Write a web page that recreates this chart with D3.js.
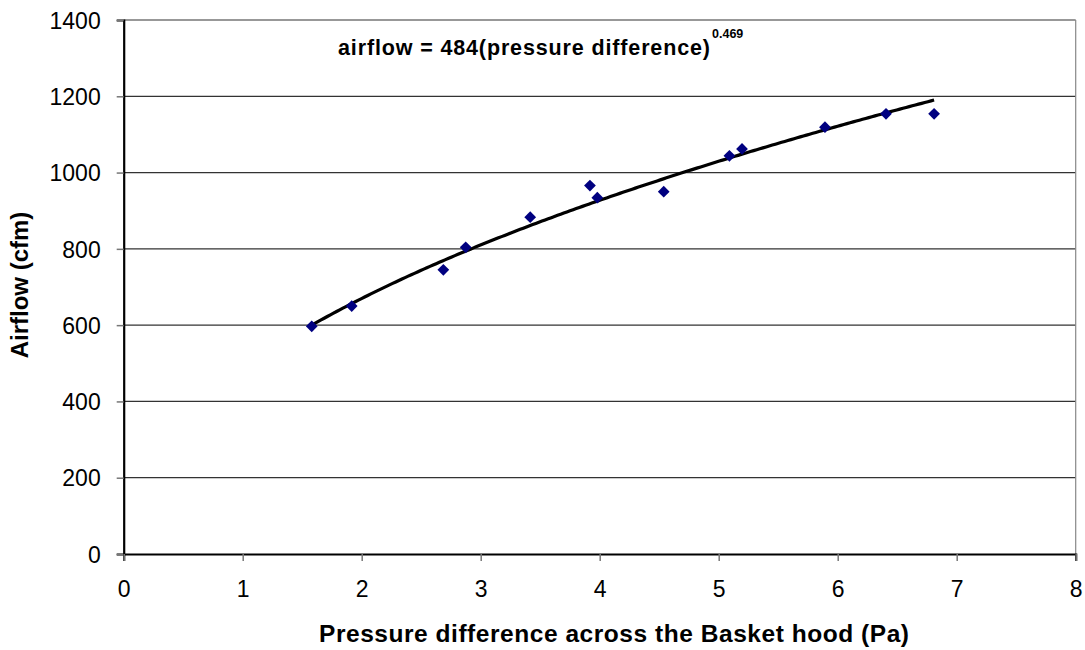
<!DOCTYPE html>
<html>
<head>
<meta charset="utf-8">
<script src="https://cdn.jsdelivr.net/npm/d3@7"></script>
<style>
  html, body { margin: 0; padding: 0; background: #fff; }
  svg { display: block; font-family: "Liberation Sans", Arial, sans-serif; }
</style>
</head>
<body>
<svg id="chart" width="1085" height="650"></svg>
<script>
// Measured pressure differences (Pa) and airflows (cfm)
const pressure = [1.58, 1.916, 2.686, 2.874, 3.416, 3.918, 3.98, 4.538, 5.09, 5.196, 5.893, 6.406, 6.81];
const airflow  = [597, 650, 745, 804, 883, 966, 934, 950, 1044, 1062, 1119, 1154, 1154];

// Power-law fit: airflow = coef * pressure ^ exponent
const fitCoef = [484];
const fitExponent = [0.469];

const xTicks = [0, 1, 2, 3, 4, 5, 6, 7, 8];
const yTicks = [0, 200, 400, 600, 800, 1000, 1200, 1400];

const svg = d3.select("#chart");
const plotLeft = 123.7, plotRight = 1075.7, plotTop = 20, plotBottom = 554;

const x = d3.scaleLinear().domain([0, 8]).range([plotLeft, plotRight]);
const y = d3.scaleLinear().domain([0, 1400]).range([plotBottom, plotTop]);

// Horizontal gridlines
svg.append("g")
  .selectAll("line")
  .data(yTicks.filter(d => d > 0))
  .join("line")
  .attr("x1", plotLeft).attr("x2", plotRight)
  .attr("y1", d => y(d)).attr("y2", d => y(d))
  .attr("stroke", "#333").attr("stroke-width", 1.2);

// Right frame edge
svg.append("line")
  .attr("x1", plotRight).attr("x2", plotRight).attr("y1", plotTop).attr("y2", plotBottom)
  .attr("stroke", "#888").attr("stroke-width", 1.2);

// Axes
const yAxis = svg.append("g")
  .attr("transform", `translate(${plotLeft},0)`)
  .call(d3.axisLeft(y).tickValues(yTicks).tickSize(7).tickPadding(16).tickFormat(d3.format("d")));
const xAxis = svg.append("g")
  .attr("transform", `translate(0,${plotBottom})`)
  .call(d3.axisBottom(x).tickValues(xTicks).tickSize(7).tickPadding(20).tickFormat(d3.format("d")));

[yAxis, xAxis].forEach(g => {
  g.select(".domain").attr("stroke", "#000").attr("stroke-width", 2.2);
  g.selectAll(".tick line").attr("stroke", "#777").attr("stroke-width", 1.5);
  g.selectAll(".tick text")
    .attr("fill", "#000")
    .style("font-family", "'Liberation Sans', Arial, sans-serif")
    .style("font-size", "23px");
});
yAxis.selectAll(".tick text").attr("dy", "0.36em");

// Fitted curve
const pMin = d3.min(pressure), pMax = d3.max(pressure);
const curveXs = d3.range(0, 201).map(i => pMin + (pMax - pMin) * i / 200);
const line = d3.line()
  .x(p => x(p))
  .y(p => y(fitCoef[0] * Math.pow(p, fitExponent[0])));
svg.append("path")
  .datum(curveXs)
  .attr("d", line)
  .attr("fill", "none")
  .attr("stroke", "#000")
  .attr("stroke-width", 3.2)
  .attr("stroke-linejoin", "round");

// Data markers (diamonds)
const diamond = d3.symbol().type(d3.symbolDiamond2).size(88);
svg.append("g")
  .selectAll("path")
  .data(pressure.map((p, i) => [p, airflow[i]]))
  .join("path")
  .attr("d", diamond)
  .attr("transform", d => `translate(${x(d[0])},${y(d[1])})`)
  .attr("fill", "#000080");

// Equation label with superscript exponent
svg.append("text")
  .attr("x", 338).attr("y", 55)
  .attr("font-weight", "bold")
  .attr("font-size", "21.5px")
  .attr("textLength", 372)
  .attr("lengthAdjust", "spacing")
  .attr("fill", "#000")
  .text(`airflow = ${fitCoef[0]}(pressure difference)`);
svg.append("text")
  .attr("x", 712).attr("y", 38)
  .attr("font-weight", "bold")
  .attr("font-size", "12.5px")
  .attr("fill", "#000")
  .text(fitExponent[0]);

// Axis titles
svg.append("text")
  .attr("x", 614).attr("y", 642)
  .attr("text-anchor", "middle")
  .attr("font-weight", "bold")
  .attr("font-size", "24.5px")
  .attr("textLength", 590)
  .attr("lengthAdjust", "spacing")
  .text("Pressure difference across the Basket hood (Pa)");

svg.append("text")
  .attr("transform", `translate(28,285) rotate(-90)`)
  .attr("text-anchor", "middle")
  .attr("font-weight", "bold")
  .attr("font-size", "24px")
  .text("Airflow (cfm)");
</script>
</body>
</html>
